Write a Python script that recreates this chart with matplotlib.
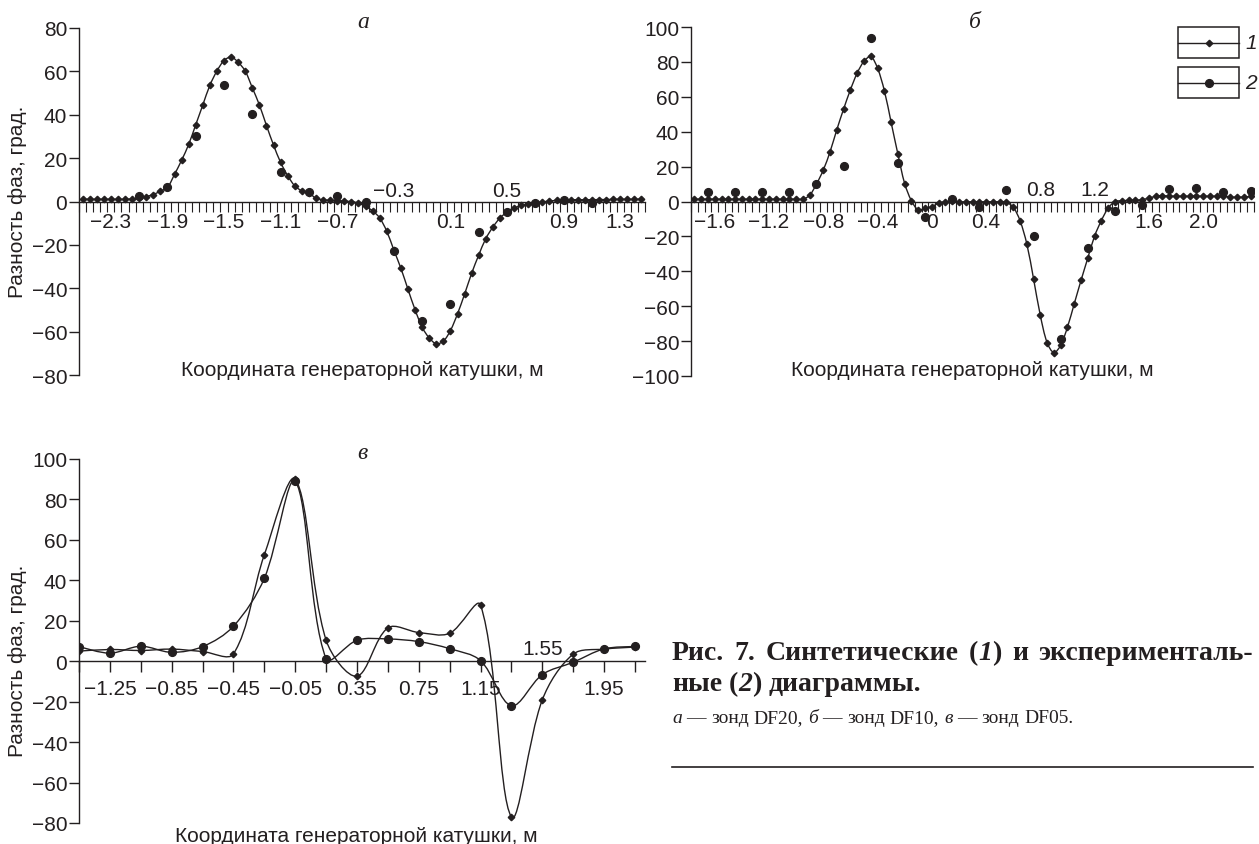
import numpy as np
import matplotlib
matplotlib.use("Agg")
import matplotlib.pyplot as plt
from matplotlib.path import Path
from matplotlib.patches import PathPatch, Rectangle
import matplotlib.transforms as mtransforms

# ------------------------------------------------------------------ data
# panel a (probe DF20): categories every 0.05 m starting at -2.5
a_x_start, a_x_step = -2.5, 0.05
a_synth = [1.1, 1.0, 1.0, 1.0, 1.0, 1.0, 1.0, 1.2, 1.5, 2.3,
           3.2, 4.8, 6.5, 12.5, 19.0, 26.3, 35.4, 44.5, 53.6, 60.2,
           65.0, 66.6, 64.2, 60.1, 52.4, 44.5, 35.0, 26.0, 18.0, 11.9,
           7.2, 4.9, 3.9, 1.5, 0.8, 0.5, 0.4, 0.2, -0.1, -0.8,
           -2.3, -4.3, -7.6, -13.7, -22.4, -30.8, -40.5, -49.9, -58.0, -62.9,
           -65.6, -64.4, -59.5, -51.8, -42.7, -33.1, -24.7, -17.1, -11.8, -7.6,
           -4.9, -3.1, -1.8, -1.1, -0.6, -0.2, 0.2, 0.5, 0.6, 0.8,
           0.8, 0.8, 0.8, 0.9, 0.9, 1.0, 1.0, 1.0, 1.0, 1.1]
a_exp_x = [-2.1, -1.9, -1.7, -1.5, -1.3, -1.1, -0.9, -0.7, -0.5, -0.3,
           -0.1, 0.1, 0.3, 0.5, 0.7, 0.9, 1.1]
a_exp_y = [2.6, 6.9, 30.4, 53.5, 40.2, 13.4, 4.2, 2.6, 0.0, -22.9,
           -55.3, -47.2, -14.0, -4.9, -0.5, 0.8, -0.5]
a_xlabels = ["\u22122.3", "\u22121.9", "\u22121.5", "\u22121.1", "\u22120.7",
             "\u22120.3", "0.1", "0.5", "0.9", "1.3"]
a_xlabel_vals = [-2.3, -1.9, -1.5, -1.1, -0.7, -0.3, 0.1, 0.5, 0.9, 1.3]
a_xlabels_above = [-0.3, 0.5]
a_yticks = [-80, -60, -40, -20, 0, 20, 40, 60, 80]

# panel b (probe DF10): categories every 0.05 m starting at -1.75
b_x_start, b_x_step = -1.75, 0.05
b_synth = [1.3, 1.3, 1.3, 1.3, 1.3, 1.3, 1.3, 1.3, 1.3, 1.3,
           1.3, 1.3, 1.3, 1.3, 1.3, 1.3, 1.3, 3.6, 10.0, 18.0,
           28.5, 41.2, 53.0, 64.0, 73.6, 80.3, 83.1, 76.4, 63.6, 45.4,
           27.2, 10.3, 0.4, -4.8, -4.0, -2.9, -1.0, -0.2, 0.2, -0.2,
           -0.2, -0.2, -0.2, -0.2, -0.2, -0.2, -0.5, -3.2, -10.9, -24.2,
           -44.3, -65.3, -80.9, -86.6, -82.4, -72.0, -58.6, -45.2, -32.4, -19.8,
           -10.9, -3.8, 0.0, 0.4, 0.6, 0.6, 1.1, 1.9, 3.0, 3.4,
           3.0, 3.0, 3.0, 3.0, 3.0, 3.0, 3.0, 3.0, 3.4, 2.5,
           2.5, 2.5, 3.0]
b_exp_x = [-1.65, -1.45, -1.25, -1.05, -0.85, -0.65, -0.45, -0.25, -0.05, 0.15,
           0.35, 0.55, 0.75, 0.95, 1.15, 1.35, 1.55, 1.75, 1.95, 2.15, 2.35]
b_exp_y = [5.2, 5.2, 5.2, 5.2, 10.0, 20.5, 93.9, 21.8, -8.6, 1.3,
           -2.9, 6.5, -20.0, -79.0, -26.7, -5.2, -2.0, 7.0, 8.0, 5.2, 6.2]
b_xlabels = ["\u22121.6", "\u22121.2", "\u22120.8", "\u22120.4", "0", "0.4",
             "0.8", "1.2", "1.6", "2.0"]
b_xlabel_vals = [-1.6, -1.2, -0.8, -0.4, 0.0, 0.4, 0.8, 1.2, 1.6, 2.0]
b_xlabels_above = [0.8, 1.2]
b_yticks = [-100, -80, -60, -40, -20, 0, 20, 40, 60, 80, 100]

# panel c (probe DF05): points every 0.2 m
c_x = [-1.45, -1.25, -1.05, -0.85, -0.65, -0.45, -0.25, -0.05, 0.15, 0.35,
       0.55, 0.75, 0.95, 1.15, 1.35, 1.55, 1.75, 1.95, 2.15]
c_synth = [5.0, 5.8, 5.3, 6.0, 4.8, 3.6, 52.6, 90.0, 10.4, -7.4,
           16.5, 14.2, 13.8, 27.8, -77.0, -19.1, 3.5, 6.0, 7.0]
c_exp = [7.2, 4.0, 7.4, 4.4, 7.2, 17.3, 41.0, 89.0, 1.2, 10.4,
         11.0, 9.7, 6.2, 0.3, -22.0, -6.6, -0.5, 6.1, 7.3]
c_xlabels = ["\u22121.25", "\u22120.85", "\u22120.45", "\u22120.05", "0.35",
             "0.75", "1.15", "1.55", "1.95"]
c_xlabel_vals = [-1.25, -0.85, -0.45, -0.05, 0.35, 0.75, 1.15, 1.55, 1.95]
c_xlabels_above = [1.55]
c_yticks = [-80, -60, -40, -20, 0, 20, 40, 60, 80, 100]

ylabel_text = "Разность фаз, град."
xlabel_text = "Координата генераторной катушки, м"

# ------------------------------------------------------------------ style
W, H, DPI = 1259, 845, 100
INK = "#231f20"
SANS = "Liberation Sans"
SERIF = "Liberation Serif"
FS = 15

plt.rcParams["font.family"] = [SANS, "DejaVu Sans"]
fig = plt.figure(figsize=(W / DPI, H / DPI), dpi=DPI)
fig.patch.set_facecolor("white")


def fmt(v):
    return ("\u2212" if v < 0 else "") + str(abs(int(v)))


def smooth_path(ax, x, y):
    """Bezier smoothing (chord-weighted Catmull-Rom, computed in screen space)."""
    pts = ax.transData.transform(np.column_stack([np.asarray(x, float),
                                                  np.asarray(y, float)]))
    n = len(pts)
    d = np.hypot(*np.diff(pts, axis=0).T)
    verts = [pts[0]]
    codes = [Path.MOVETO]
    for i in range(n - 1):
        i0, i3 = max(i - 1, 0), min(i + 2, n - 1)
        t1 = pts[i + 1] - pts[i0]
        t2 = pts[i3] - pts[i]
        f1 = d[i] / (d[i - 1] + d[i]) if i > 0 else 0.5
        f2 = d[i] / (d[i] + d[i + 1]) if i + 1 < n - 1 else 0.5
        c1 = pts[i] + t1 * f1 / 3.0
        c2 = pts[i + 1] - t2 * f2 / 3.0
        verts += [c1, c2, pts[i + 1]]
        codes += [Path.CURVE4] * 3
    verts = ax.transData.inverted().transform(np.array(verts))
    return Path(verts, codes)


def make_axes(l, t, r, b, xlim, ylim, yticks, minor_ticks):
    ax = fig.add_axes([l / W, 1 - b / H, (r - l) / W, (b - t) / H])
    ax.set_xlim(*xlim)
    ax.set_ylim(*ylim)
    ax.patch.set_visible(False)
    for s in ("top", "right"):
        ax.spines[s].set_visible(False)
    ax.spines["bottom"].set_position(("data", 0))
    for s in ("left", "bottom"):
        ax.spines[s].set_linewidth(1.0)
        ax.spines[s].set_color(INK)
    ax.set_yticks(yticks)
    ax.set_yticklabels([fmt(v) for v in yticks])
    ax.tick_params(axis="y", direction="out", length=7.5, width=1.0,
                   labelsize=FS, pad=1, colors=INK)
    ax.set_xticks(minor_ticks)
    ax.set_xticklabels([])
    ax.tick_params(axis="x", direction="out", length=7.0, width=0.8, colors=INK)
    return ax


def xlabels(ax, vals, labels, above, d_below, d_above):
    for v, s in zip(vals, labels):
        if any(abs(v - a) < 1e-9 for a in above):
            tr = mtransforms.offset_copy(ax.transData, fig=fig, x=0, y=d_above, units="dots")
        else:
            tr = mtransforms.offset_copy(ax.transData, fig=fig, x=0, y=-d_below, units="dots")
        ax.text(v, 0, s, transform=tr, ha="center", va="center",
                fontsize=FS, color=INK, family=SANS)


def curve(ax, x, y):
    ax.add_patch(PathPatch(smooth_path(ax, x, y), fill=False, lw=1.0, ec=INK, zorder=3))


def diamonds(ax, x, y):
    ax.plot(x, y, ls="none", marker="D", ms=3.3, mfc=INK, mec=INK, zorder=4)


def circles(ax, x, y):
    ax.plot(x, y, ls="none", marker="o", ms=5.6, mfc=INK, mec=INK, zorder=5)


# ---- panel a
a_x = a_x_start + a_x_step * np.arange(len(a_synth))
a_edges = np.append(a_x - a_x_step / 2, a_x[-1] + a_x_step / 2)
ax_a = make_axes(79, 29, 645, 376, (a_edges[0], a_edges[-1]), (-80, 80),
                 a_yticks, a_edges)
curve(ax_a, a_x, a_synth)
diamonds(ax_a, a_x, a_synth)
circles(ax_a, a_exp_x, a_exp_y)
xlabels(ax_a, a_xlabel_vals, a_xlabels, a_xlabels_above, 20, 11)

# ---- panel b
b_x = b_x_start + b_x_step * np.arange(len(b_synth))
b_edges = np.append(b_x - b_x_step / 2, b_x[-1] + b_x_step / 2)
ax_b = make_axes(691, 28, 1254, 377, (b_edges[0], b_edges[-1]), (-100, 100),
                 b_yticks, b_edges)
curve(ax_b, b_x, b_synth)
diamonds(ax_b, b_x, b_synth)
circles(ax_b, b_exp_x, b_exp_y)
xlabels(ax_b, b_xlabel_vals, b_xlabels, b_xlabels_above, 20, 12)

# ---- panel c
c_right = c_x[-1] + 0.065
ax_c = make_axes(79, 460, 645, 824, (c_x[0], c_right), (-80, 100), c_yticks, c_x)
ax_c.tick_params(axis="x", length=8.0, width=1.0)
curve(ax_c, c_x, c_synth)
curve(ax_c, c_x, c_exp)
diamonds(ax_c, c_x, c_synth)
circles(ax_c, c_x, c_exp)
xlabels(ax_c, c_xlabel_vals, c_xlabels, c_xlabels_above, 27, 13)

# ------------------------------------------------------------------ overlay (pixel coordinates)
ov = fig.add_axes([0, 0, 1, 1], zorder=10)
ov.set_xlim(0, W)
ov.set_ylim(H, 0)
ov.axis("off")
ov.patch.set_visible(False)

for (x, y) in [(362, 371), (972, 371), (356, 837)]:
    ov.text(x, y, xlabel_text, ha="center", va="center", fontsize=FS, color=INK, family=SANS)
for (x, y) in [(18, 202), (18, 661)]:
    ov.text(x, y, ylabel_text, ha="center", va="center", rotation=90,
            fontsize=FS, color=INK, family=SANS)

for (x, y, s) in [(363, 22, "а"), (975, 22, "б"), (362, 454, "в")]:
    ov.text(x, y, s, ha="center", va="center", fontsize=17, style="italic",
            color=INK, family=SERIF)

# legend
for (top, mk, ms, lab) in [(28, "D", 3.3, "1"), (68, "o", 5.6, "2")]:
    ov.add_patch(Rectangle((1178, top), 61, 31, fill=False, lw=1.1, ec=INK))
    ov.plot([1178, 1239], [top + 15.5, top + 15.5], color=INK, lw=1.0)
    ov.plot([1209], [top + 15.5], marker=mk, ms=ms, mfc=INK, mec=INK, ls="none")
    ov.text(1245, top + 15.5, lab, ha="left", va="center", fontsize=FS,
            style="italic", color=INK, family=SANS)

# caption with mixed styles
renderer = fig.canvas.get_renderer()


def run_width(s, **kw):
    t = ov.text(0, 0, s, **kw)
    w = t.get_window_extent(renderer).width
    t.remove()
    return w


def draw_line(words, x0, y, fs, weight, target=None):
    base = dict(fontsize=fs, family=SERIF, color=INK, va="baseline", ha="left")
    widths = []
    for word in words:
        wsum = 0
        for s, it in word:
            wsum += run_width(s, fontweight=weight, style="italic" if it else "normal", **base)
        widths.append(wsum)
    space = run_width("a a", fontweight=weight, **base) - run_width("aa", fontweight=weight, **base)
    if target is not None and len(words) > 1:
        space = (target - sum(widths)) / (len(words) - 1)
    x = x0
    for word, wd in zip(words, widths):
        xx = x
        for s, it in word:
            ov.text(xx, y, s, fontweight=weight, style="italic" if it else "normal", **base)
            xx += run_width(s, fontweight=weight, style="italic" if it else "normal", **base)
        x += wd + space


N = False
I = True
line1 = [[("Рис.", N)], [("7.", N)], [("Синтетические", N)], [("(", N), ("1", I), (")", N)],
         [("и", N)], [("эксперименталь-", N)]]
line2 = [[("ные", N)], [("(", N), ("2", I), (")", N)], [("диаграммы.", N)]]
line3 = [[("а", I)], [("—", N)], [("зонд", N)], [("DF20,", N)], [("б", I)], [("—", N)],
         [("зонд", N)], [("DF10,", N)], [("в", I)], [("—", N)], [("зонд", N)], [("DF05.", N)]]
draw_line(line1, 672, 660, 20, "bold", target=1253 - 672)
draw_line(line2, 672, 691, 20, "bold")
draw_line(line3, 672, 723, 14, "normal")
ov.plot([672, 1253], [768, 768], color=INK, lw=1.2)

fig.savefig("out.png", dpi=DPI, facecolor="white")
